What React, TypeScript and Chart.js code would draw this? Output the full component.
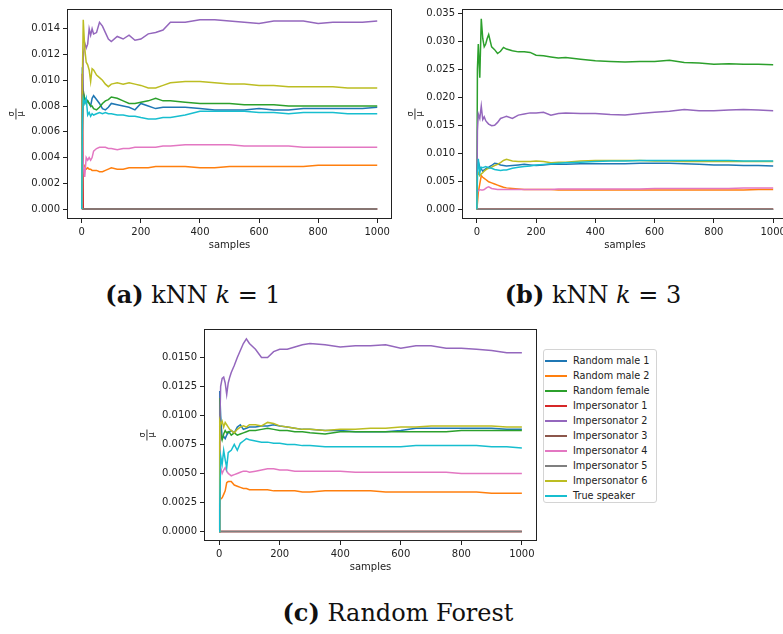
import React, { useEffect, useRef } from 'react';
import { Chart, registerables } from 'chart.js';

Chart.register(...registerables);

const SERIES_LABELS = [
  'Random male 1', 'Random male 2', 'Random female', 'Impersonator 1', 'Impersonator 2',
  'Impersonator 3', 'Impersonator 4', 'Impersonator 5', 'Impersonator 6', 'True speaker',
];
const COLORS = ['#1f77b4', '#ff7f0e', '#2ca02c', '#d62728', '#9467bd', '#8c564b', '#e377c2', '#7f7f7f', '#bcbd22', '#17becf'];

const SAMPLES = [0, 2, 5, 10, 15, 20, 25, 30, 35, 40, 50, 60, 70, 80, 90, 100, 120, 140, 160, 180, 200, 225, 250, 275, 300, 350, 400, 450, 500, 550, 600, 650, 700, 750, 800, 850, 900, 950, 1000];
const X_TICKS = [0, 200, 400, 600, 800, 1000];
const A_Y_TICKS = [0, 0.002, 0.004, 0.006, 0.008, 0.010, 0.012, 0.014];
const B_Y_TICKS = [0, 0.005, 0.010, 0.015, 0.020, 0.025, 0.030, 0.035];
const C_Y_TICKS = [0, 0.0025, 0.005, 0.0075, 0.010, 0.0125, 0.015];

const ZERO_SERIES = [0, 0, 0, 0, 0, 0, 0, 0, 0, 0, 0, 0, 0, 0, 0, 0, 0, 0, 0, 0, 0, 0, 0, 0, 0, 0, 0, 0, 0, 0, 0, 0, 0, 0, 0, 0, 0, 0, 0];

// (a) kNN k = 1
const A_RANDOM_MALE_1 = [0, 0.0110, 0.0090, 0.0086, 0.0085, 0.0084, 0.0082, 0.0080, 0.0086, 0.0088,
  0.0085, 0.0082, 0.0078, 0.0077, 0.0079, 0.0082, 0.0081, 0.0080, 0.0079, 0.0077, 0.0082,
  0.0080, 0.0078, 0.0079, 0.0079,
  0.0079, 0.0078, 0.0077, 0.0077, 0.0077, 0.0078, 0.0077, 0.0077, 0.0078, 0.0078, 0.0078, 0.0078, 0.0078, 0.0079];
const A_RANDOM_MALE_2 = [0, 0.0045, 0.0035, 0.0033, 0.0031, 0.0032, 0.0031, 0.0031, 0.0030, 0.0030,
  0.0030, 0.0029, 0.0029, 0.0030, 0.0031, 0.0032, 0.0031, 0.0031, 0.0032, 0.0032, 0.0032,
  0.0032, 0.0033, 0.0033, 0.0033,
  0.0033, 0.0032, 0.0032, 0.0033, 0.0033, 0.0033, 0.0033, 0.0033, 0.0033, 0.0034, 0.0034, 0.0034, 0.0034, 0.0034];
const A_RANDOM_FEMALE = [0, 0.0060, 0.0092, 0.0085, 0.0082, 0.0084, 0.0082, 0.0080, 0.0080, 0.0078,
  0.0077, 0.0079, 0.0082, 0.0084, 0.0085, 0.0087, 0.0086, 0.0084, 0.0082, 0.0082, 0.0083,
  0.0084, 0.0086, 0.0084, 0.0084,
  0.0083, 0.0082, 0.0082, 0.0082, 0.0081, 0.0081, 0.0081, 0.0080, 0.0080, 0.0080, 0.0080, 0.0080, 0.0080, 0.0080];
const A_IMPERSONATOR_1 = [0, 0.0105, 0, 0, 0, 0, 0, 0, 0, 0, 0, 0, 0, 0, 0, 0, 0, 0, 0, 0, 0, 0, 0, 0, 0, 0, 0, 0, 0, 0, 0, 0, 0, 0, 0, 0, 0, 0, 0];
const A_IMPERSONATOR_2 = [0, 0.0080, 0.0118, 0.0129, 0.0125, 0.0128, 0.0140, 0.0135, 0.0140, 0.0136,
  0.0137, 0.0145, 0.0142, 0.0137, 0.0132, 0.0130, 0.0134, 0.0132, 0.0135, 0.0131, 0.0132,
  0.0136, 0.0137, 0.0139, 0.0145,
  0.0145, 0.0147, 0.0147, 0.0146, 0.0145, 0.0144, 0.0146, 0.0146, 0.0146, 0.0144, 0.0145, 0.0145, 0.0145, 0.0146];
const A_IMPERSONATOR_4 = [0, 0.0050, 0.0035, 0.0025, 0.0040, 0.0038, 0.0040, 0.0038, 0.0040, 0.0045,
  0.0047, 0.0048, 0.0048, 0.0048, 0.0047, 0.0047, 0.0046, 0.0047, 0.0047, 0.0048, 0.0048,
  0.0048, 0.0048, 0.0049, 0.0049,
  0.0050, 0.0050, 0.0050, 0.0050, 0.0049, 0.0049, 0.0049, 0.0049, 0.0048, 0.0048, 0.0048, 0.0048, 0.0048, 0.0048];
const A_IMPERSONATOR_6 = [0, 0.0100, 0.0147, 0.0125, 0.0114, 0.0112, 0.0108, 0.0099, 0.0109, 0.0108,
  0.0104, 0.0102, 0.0100, 0.0097, 0.0095, 0.0097, 0.0098, 0.0097, 0.0098, 0.0097, 0.0096,
  0.0094, 0.0094, 0.0096, 0.0098,
  0.0099, 0.0099, 0.0098, 0.0097, 0.0097, 0.0096, 0.0096, 0.0095, 0.0095, 0.0095, 0.0095, 0.0094, 0.0094, 0.0094];
const A_TRUE_SPEAKER = [0, 0.0070, 0.0086, 0.0082, 0.0086, 0.0073, 0.0075, 0.0072, 0.0074, 0.0073,
  0.0074, 0.0075, 0.0074, 0.0075, 0.0074, 0.0074, 0.0073, 0.0073, 0.0072, 0.0072, 0.0071,
  0.0070, 0.0070, 0.0071, 0.0071,
  0.0073, 0.0076, 0.0076, 0.0076, 0.0076, 0.0075, 0.0075, 0.0074, 0.0075, 0.0075, 0.0075, 0.0074, 0.0074, 0.0074];

// (b) kNN k = 3
const B_RANDOM_MALE_1 = [0, 0.0080, 0.0085, 0.0075, 0.0072, 0.0068, 0.0070, 0.0072, 0.0074, 0.0075,
  0.0078, 0.0082, 0.0081, 0.0079, 0.0078, 0.0077, 0.0078, 0.0079, 0.0080, 0.0079, 0.0078,
  0.0079, 0.0080, 0.0080, 0.0080,
  0.0081, 0.0081, 0.0081, 0.0081, 0.0082, 0.0082, 0.0082, 0.0081, 0.0080, 0.0079, 0.0079, 0.0078, 0.0078, 0.0077];
const B_RANDOM_MALE_2 = [0, 0.0010, 0.0030, 0.0045, 0.0060, 0.0057, 0.0055, 0.0053, 0.0051, 0.0049,
  0.0047, 0.0045, 0.0043, 0.0041, 0.0039, 0.0038, 0.0037, 0.0036, 0.0035, 0.0035, 0.0035,
  0.0035, 0.0035, 0.0034, 0.0034,
  0.0034, 0.0034, 0.0034, 0.0034, 0.0034, 0.0034, 0.0034, 0.0034, 0.0034, 0.0034, 0.0034, 0.0034, 0.0035, 0.0035];
const B_RANDOM_FEMALE = [0, 0.0250, 0.0295, 0.0235, 0.0340, 0.0305, 0.0290, 0.0295, 0.0305, 0.0312,
  0.0290, 0.0285, 0.0278, 0.0282, 0.0289, 0.0286, 0.0283, 0.0281, 0.0281, 0.0280, 0.0275,
  0.0274, 0.0272, 0.0270, 0.0271,
  0.0268, 0.0265, 0.0264, 0.0263, 0.0264, 0.0264, 0.0266, 0.0262, 0.0261, 0.0259, 0.0260, 0.0259, 0.0259, 0.0258];
const B_IMPERSONATOR_2 = [0, 0.0140, 0.0170, 0.0162, 0.0184, 0.0160, 0.0165, 0.0158, 0.0155, 0.0152,
  0.0149, 0.0150, 0.0155, 0.0162, 0.0164, 0.0166, 0.0162, 0.0168, 0.0170, 0.0172, 0.0172,
  0.0173, 0.0168, 0.0171, 0.0172,
  0.0171, 0.0171, 0.0169, 0.0168, 0.0171, 0.0173, 0.0175, 0.0178, 0.0176, 0.0176, 0.0177, 0.0178, 0.0177, 0.0176];
const B_IMPERSONATOR_4 = [0, 0.0030, 0.0033, 0.0035, 0.0034, 0.0034, 0.0035, 0.0037, 0.0039, 0.0040,
  0.0037, 0.0036, 0.0035, 0.0035, 0.0035, 0.0035, 0.0035, 0.0035, 0.0035, 0.0035, 0.0035,
  0.0035, 0.0035, 0.0036, 0.0036,
  0.0036, 0.0036, 0.0036, 0.0036, 0.0036, 0.0037, 0.0037, 0.0037, 0.0037, 0.0037, 0.0037, 0.0038, 0.0038, 0.0038];
const B_IMPERSONATOR_6 = [0, 0.0060, 0.0065, 0.0060, 0.0063, 0.0065, 0.0068, 0.0070, 0.0072, 0.0073,
  0.0075, 0.0078, 0.0080, 0.0083, 0.0087, 0.0089, 0.0086, 0.0085, 0.0085, 0.0085, 0.0086,
  0.0085, 0.0083, 0.0084, 0.0084,
  0.0086, 0.0087, 0.0087, 0.0087, 0.0087, 0.0086, 0.0086, 0.0085, 0.0085, 0.0085, 0.0085, 0.0085, 0.0085, 0.0085];
const B_TRUE_SPEAKER = [0, 0.0060, 0.0090, 0.0065, 0.0075, 0.0074, 0.0075, 0.0076, 0.0075, 0.0074,
  0.0073, 0.0071, 0.0070, 0.0069, 0.0070, 0.0070, 0.0073, 0.0075, 0.0076, 0.0077, 0.0079,
  0.0080, 0.0081, 0.0082, 0.0083,
  0.0084, 0.0085, 0.0086, 0.0086, 0.0087, 0.0087, 0.0087, 0.0087, 0.0087, 0.0087, 0.0087, 0.0086, 0.0086, 0.0086];

// (c) Random Forest
const C_RANDOM_MALE_1 = [0, 0.0121, 0.0100, 0.0080, 0.0082, 0.0080, 0.0083, 0.0085, 0.0086, 0.0087,
  0.0085, 0.0090, 0.0092, 0.0088, 0.0089, 0.0090, 0.0090, 0.0091, 0.0091, 0.0092, 0.0091,
  0.0090, 0.0089, 0.0088, 0.0088,
  0.0087, 0.0087, 0.0086, 0.0086, 0.0086, 0.0087, 0.0089, 0.0089, 0.0089, 0.0089, 0.0089, 0.0089, 0.0088, 0.0088];
const C_RANDOM_MALE_2 = [0, 0.0025, 0.0028, 0.0029, 0.0032, 0.0035, 0.0042, 0.0043, 0.0043, 0.0043,
  0.0040, 0.0039, 0.0038, 0.0037, 0.0037, 0.0036, 0.0036, 0.0036, 0.0036, 0.0035, 0.0035,
  0.0035, 0.0035, 0.0034, 0.0034,
  0.0035, 0.0035, 0.0035, 0.0035, 0.0034, 0.0034, 0.0034, 0.0034, 0.0034, 0.0034, 0.0034, 0.0033, 0.0033, 0.0033];
const C_RANDOM_FEMALE = [0, 0.0115, 0.0085, 0.0079, 0.0084, 0.0087, 0.0085, 0.0086, 0.0085, 0.0083,
  0.0085, 0.0083, 0.0084, 0.0085, 0.0086, 0.0087, 0.0087, 0.0088, 0.0089, 0.0088, 0.0087,
  0.0087, 0.0086, 0.0086, 0.0085,
  0.0084, 0.0086, 0.0086, 0.0086, 0.0086, 0.0086, 0.0086, 0.0086, 0.0086, 0.0087, 0.0087, 0.0087, 0.0087, 0.0087];
const C_IMPERSONATOR_2 = [0, 0.0090, 0.0125, 0.0132, 0.0133, 0.0128, 0.0118, 0.0128, 0.0133, 0.0137,
  0.0143, 0.0150, 0.0156, 0.0162, 0.0166, 0.0162, 0.0157, 0.0150, 0.0150, 0.0155, 0.0157,
  0.0157, 0.0159, 0.0161, 0.0162,
  0.0161, 0.0159, 0.0160, 0.0160, 0.0161, 0.0158, 0.0160, 0.0160, 0.0158, 0.0158, 0.0157, 0.0156, 0.0154, 0.0154];
const C_IMPERSONATOR_4 = [0, 0.0092, 0.0055, 0.0050, 0.0053, 0.0055, 0.0052, 0.0050, 0.0049, 0.0048,
  0.0049, 0.0050, 0.0051, 0.0052, 0.0052, 0.0051, 0.0052, 0.0053, 0.0054, 0.0054, 0.0053,
  0.0053, 0.0052, 0.0052, 0.0052,
  0.0052, 0.0052, 0.0051, 0.0051, 0.0051, 0.0051, 0.0051, 0.0051, 0.0051, 0.0050, 0.0050, 0.0050, 0.0050, 0.0050];
const C_IMPERSONATOR_6 = [0, 0.0095, 0.0092, 0.0095, 0.0090, 0.0094, 0.0092, 0.0090, 0.0088, 0.0087,
  0.0085, 0.0088, 0.0090, 0.0091, 0.0090, 0.0092, 0.0092, 0.0091, 0.0094, 0.0093, 0.0091,
  0.0090, 0.0089, 0.0088, 0.0088,
  0.0087, 0.0088, 0.0088, 0.0089, 0.0089, 0.0090, 0.0090, 0.0091, 0.0091, 0.0091, 0.0091, 0.0091, 0.0090, 0.0090];
const C_TRUE_SPEAKER = [0, 0.0020, 0.0065, 0.0058, 0.0070, 0.0062, 0.0055, 0.0068, 0.0069, 0.0070,
  0.0075, 0.0070, 0.0076, 0.0078, 0.0080, 0.0079, 0.0078, 0.0077, 0.0077, 0.0076, 0.0076,
  0.0075, 0.0075, 0.0074, 0.0074,
  0.0073, 0.0073, 0.0073, 0.0073, 0.0073, 0.0073, 0.0074, 0.0074, 0.0074, 0.0074, 0.0074, 0.0073, 0.0073, 0.0072];

const A_SERIES = [A_RANDOM_MALE_1, A_RANDOM_MALE_2, A_RANDOM_FEMALE, A_IMPERSONATOR_1, A_IMPERSONATOR_2, ZERO_SERIES, A_IMPERSONATOR_4, ZERO_SERIES, A_IMPERSONATOR_6, A_TRUE_SPEAKER];
const B_SERIES = [B_RANDOM_MALE_1, B_RANDOM_MALE_2, B_RANDOM_FEMALE, ZERO_SERIES, B_IMPERSONATOR_2, ZERO_SERIES, B_IMPERSONATOR_4, ZERO_SERIES, B_IMPERSONATOR_6, B_TRUE_SPEAKER];
const C_SERIES = [C_RANDOM_MALE_1, C_RANDOM_MALE_2, C_RANDOM_FEMALE, ZERO_SERIES, C_IMPERSONATOR_2, ZERO_SERIES, C_IMPERSONATOR_4, ZERO_SERIES, C_IMPERSONATOR_6, C_TRUE_SPEAKER];

const INK = '#222222';
const SANS = '"DejaVu Sans", sans-serif';

const framePlugin = {
  id: 'mplFrame',
  afterDraw(chart: any, _args: any, opts: any) {
    const { ctx, chartArea } = chart;
    const l = Math.round(chartArea.left) + 0.5;
    const t = Math.round(chartArea.top) + 0.5;
    const r = Math.round(chartArea.right) - 0.5;
    const b = Math.round(chartArea.bottom) - 0.5;
    ctx.save();
    ctx.strokeStyle = INK;
    ctx.lineWidth = 1;
    ctx.strokeRect(l, t, r - l, b - t);
    // rotated fraction label sigma / mu
    const cy = (chartArea.top + chartArea.bottom) / 2;
    ctx.translate(opts.labelX, cy);
    ctx.rotate(-Math.PI / 2);
    ctx.fillStyle = INK;
    ctx.font = '8px ' + SANS;
    ctx.textAlign = 'center';
    ctx.textBaseline = 'alphabetic';
    ctx.fillText('σ', 0, -1.8);
    ctx.fillRect(-5.5, -0.5, 11, 0.9);
    ctx.textBaseline = 'top';
    ctx.fillText('μ', 0, 1.4);
    ctx.restore();
  },
};

type Spec = {
  series: number[][];
  yMin: number; yMax: number; yTicks: number[]; decimals: number;
  width: number; height: number; padTop: number; padRight: number;
  yWidth: number; xHeight: number; labelX: number;
};

function makeConfig(s: Spec): any {
  const tickFont = { family: SANS, size: 10 };
  return {
    type: 'line',
    data: {
      datasets: s.series.map((ys, i) => ({
        label: SERIES_LABELS[i],
        data: SAMPLES.map((x, j) => ({ x, y: ys[j] })),
        borderColor: COLORS[i],
        backgroundColor: COLORS[i],
        borderWidth: 1.5,
        pointRadius: 0,
        tension: 0,
        fill: false,
        order: s.series.length - i,
      })),
    },
    options: {
      responsive: false,
      animation: false,
      devicePixelRatio: 1,
      layout: { padding: { top: s.padTop, right: s.padRight, left: 0, bottom: 0 } },
      plugins: { legend: { display: false }, tooltip: { enabled: false }, mplFrame: { labelX: s.labelX } },
      scales: {
        x: {
          type: 'linear', min: -50, max: 1050,
          afterBuildTicks: (sc: any) => { sc.ticks = X_TICKS.map((v) => ({ value: v })); },
          afterFit: (sc: any) => { sc.height = s.xHeight; },
          grid: { display: true, drawOnChartArea: false, drawTicks: true, tickLength: 4, color: INK, lineWidth: 1 },
          border: { display: false },
          ticks: { padding: 3, color: INK, font: tickFont, maxRotation: 0, autoSkip: false, callback: (v: number) => String(v) },
          title: { display: true, text: 'samples', color: INK, font: tickFont, padding: { top: 0, bottom: 7 } },
        },
        y: {
          type: 'linear', min: s.yMin, max: s.yMax,
          afterBuildTicks: (sc: any) => { sc.ticks = s.yTicks.map((v) => ({ value: v })); },
          afterFit: (sc: any) => { sc.width = s.yWidth; },
          grid: { display: true, drawOnChartArea: false, drawTicks: true, tickLength: 4, color: INK, lineWidth: 1 },
          border: { display: false },
          ticks: { padding: 3, color: INK, font: tickFont, autoSkip: false, callback: (v: number) => v.toFixed(s.decimals) },
        },
      },
    },
    plugins: [framePlugin],
  };
}

function LineChart({ spec, left, top }: { spec: Spec; left: number; top: number }) {
  const ref = useRef<HTMLCanvasElement | null>(null);
  useEffect(() => {
    if (!ref.current) return;
    const chart = new Chart(ref.current, makeConfig(spec));
    return () => chart.destroy();
  }, [spec]);
  return (
    <div style={{ position: 'absolute', left, top, width: spec.width, height: spec.height }}>
      <canvas ref={ref} width={spec.width} height={spec.height} style={{ display: 'block' }} />
    </div>
  );
}

const SPEC_A: Spec = { series: A_SERIES, yMin: -0.00077, yMax: 0.01553, yTicks: A_Y_TICKS, decimals: 3, width: 400, height: 258, padTop: 7, padRight: 8, yWidth: 67, xHeight: 39, labelX: 16 };
const SPEC_B: Spec = { series: B_SERIES, yMin: -0.00176, yMax: 0.03576, yTicks: B_Y_TICKS, decimals: 3, width: 400, height: 258, padTop: 7, padRight: 12, yWidth: 62, xHeight: 39, labelX: 15 };
const SPEC_C: Spec = { series: C_SERIES, yMin: -0.00082, yMax: 0.01745, yTicks: C_Y_TICKS, decimals: 4, width: 400, height: 260, padTop: 5, padRight: 3, yWidth: 64, xHeight: 39, labelX: 7 };

const captionStyle = (cx: number, cy: number): React.CSSProperties => ({
  position: 'absolute', left: cx - 200, top: cy - 13, width: 400, height: 26, lineHeight: '26px',
  textAlign: 'center', fontFamily: '"DejaVu Serif", serif', fontSize: 24, color: '#111', whiteSpace: 'nowrap',
});

function Caption({ tag, children, cx, cy }: { tag: string; children: React.ReactNode; cx: number; cy: number }) {
  return (
    <div style={captionStyle(cx, cy)}>
      <b>({tag})</b> {children}
    </div>
  );
}

export default function App() {
  return (
    <div style={{ position: 'fixed', left: 0, top: 0, width: 783, height: 634, overflow: 'hidden', background: '#ffffff' }}>
      <LineChart spec={SPEC_A} left={0} top={0} />
      <LineChart spec={SPEC_B} left={400} top={0} />
      <LineChart spec={SPEC_C} left={140} top={320} />
      <Caption tag="a" cx={193} cy={295}>kNN <i>k</i> = 1</Caption>
      <Caption tag="b" cx={593} cy={295}>kNN <i>k</i> = 3</Caption>
      <Caption tag="c" cx={398} cy={613}>Random Forest</Caption>
      <div style={{ position: 'absolute', left: 543, top: 349, width: 114, height: 154, boxSizing: 'border-box', border: '1px solid #d4d4d4', borderRadius: 3, paddingTop: 3, background: '#fff' }}>
        {SERIES_LABELS.map((label, i) => (
          <div key={label} style={{ height: 15, display: 'flex', alignItems: 'center', whiteSpace: 'nowrap' }}>
            <span style={{ display: 'inline-block', width: 22, height: 2, background: COLORS[i], marginLeft: 1, marginRight: 6, flex: 'none' }} />
            <span style={{ fontFamily: SANS, fontSize: 9.7, color: INK }}>{label}</span>
          </div>
        ))}
      </div>
    </div>
  );
}
